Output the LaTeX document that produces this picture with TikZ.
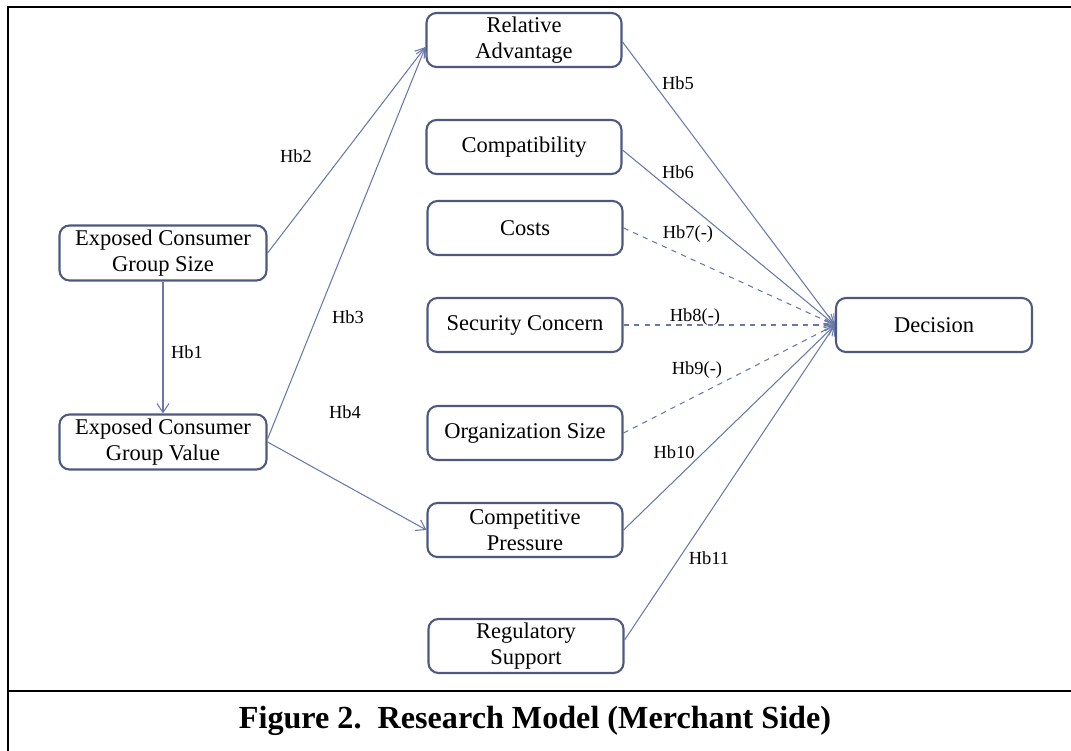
\documentclass[tikz,border=0pt]{standalone}
\usepackage{fontspec}
\setmainfont{Liberation Serif}
\usetikzlibrary{arrows.meta}
\definecolor{boxline}{RGB}{79,89,128}
\definecolor{arrline}{RGB}{104,120,170}

\begin{document}
\begin{tikzpicture}[
			box/.style={draw=boxline, rounded corners=0.2cm, line width=1.2pt, minimum width=3.9cm, minimum height=1.08cm, inner sep=0pt, align=center, font=\fontsize{12.8}{14.8}\selectfont},
			link/.style={draw=arrline, line width=0.6pt, -{Straight Barb[length=0.18cm,width=0.24cm]}},
			lbl/.style={inner sep=0pt, font=\fontsize{10.5}{12}\selectfont}
			]
			
			\useasboundingbox (0,0) rectangle (21.42,-15);
			
			% Frame
			\draw[line width=1.6pt] (0.16,-15.2) -- (0.16,-0.14) -- (21.6,-0.14);
			\draw[line width=1.6pt] (0.16,-13.82) -- (21.6,-13.82);
			\node[inner sep=0pt, font=\fontsize{18.3}{20}\selectfont\bfseries] (cap) at (10.7,-14.42) {Figure 2.\ \ Research Model (Merchant Side)};
			
			% Nodes
			\node[box, minimum width=4.14cm, minimum height=1.1cm] (gsize) at (3.26,-5.06) {Exposed Consumer\\Group Size};
			\node[box, minimum width=4.14cm, minimum height=1.1cm] (gvalue) at (3.26,-8.84) {Exposed Consumer\\Group Value};
			
			\node[box] (ra) at (10.48,-0.80) {Relative\\Advantage};
			\node[box] (comp) at (10.48,-2.94) {Compatibility};
			\node[box] (cost) at (10.50,-4.56) {Costs};
			\node[box] (sec) at (10.50,-6.50) {Security Concern};
			\node[box] (org) at (10.50,-8.66) {Organization Size};
			\node[box] (cp) at (10.50,-10.60) {Competitive\\Pressure};
			\node[box] (reg) at (10.52,-12.92) {Regulatory\\Support};
			
			\node[box, minimum width=3.92cm] (dec) at (18.68,-6.50) {Decision};
			
			% Edges
			\draw[link] (gsize.south) -- (gvalue.north);
			\draw[link] (gsize.east) -- ([yshift=-0.14cm]ra.west);
			\draw[link] ([yshift=0.06cm]gvalue.east) -- ([yshift=-0.14cm]ra.west);
			\draw[link] (gvalue.east) -- (cp.west);
			
			\draw[link] ([yshift=-0.04cm]ra.east) -- (dec.west);
			\draw[link] ([yshift=-0.06cm]comp.east) -- (dec.west);
			\draw[link, dashed] (cost.east) -- (dec.west);
			\draw[link, dashed] (sec.east) -- (dec.west);
			\draw[link, dashed] (org.east) -- (dec.west);
			\draw[link] (cp.east) -- (dec.west);
			\draw[link] ([yshift=0.12cm]reg.east) -- (dec.west);
			
			% Labels
			\node[lbl] (hb1) at (3.74,-7.04) {Hb1};
			\node[lbl] (hb2) at (5.92,-3.12) {Hb2};
			\node[lbl] (hb3) at (6.96,-6.34) {Hb3};
			\node[lbl] (hb4) at (6.90,-8.24) {Hb4};
			\node[lbl] (hb5) at (13.56,-1.66) {Hb5};
			\node[lbl] (hb6) at (13.56,-3.44) {Hb6};
			\node[lbl] (hb7) at (13.76,-4.68) {Hb7(-)};
			\node[lbl] (hb8) at (13.90,-6.34) {Hb8(-)};
			\node[lbl] (hb9) at (13.94,-7.40) {Hb9(-)};
			\node[lbl] (hb10) at (13.48,-9.04) {Hb10};
			\node[lbl] (hb11) at (14.18,-11.16) {Hb11};
			
		\end{tikzpicture}
\end{document}
